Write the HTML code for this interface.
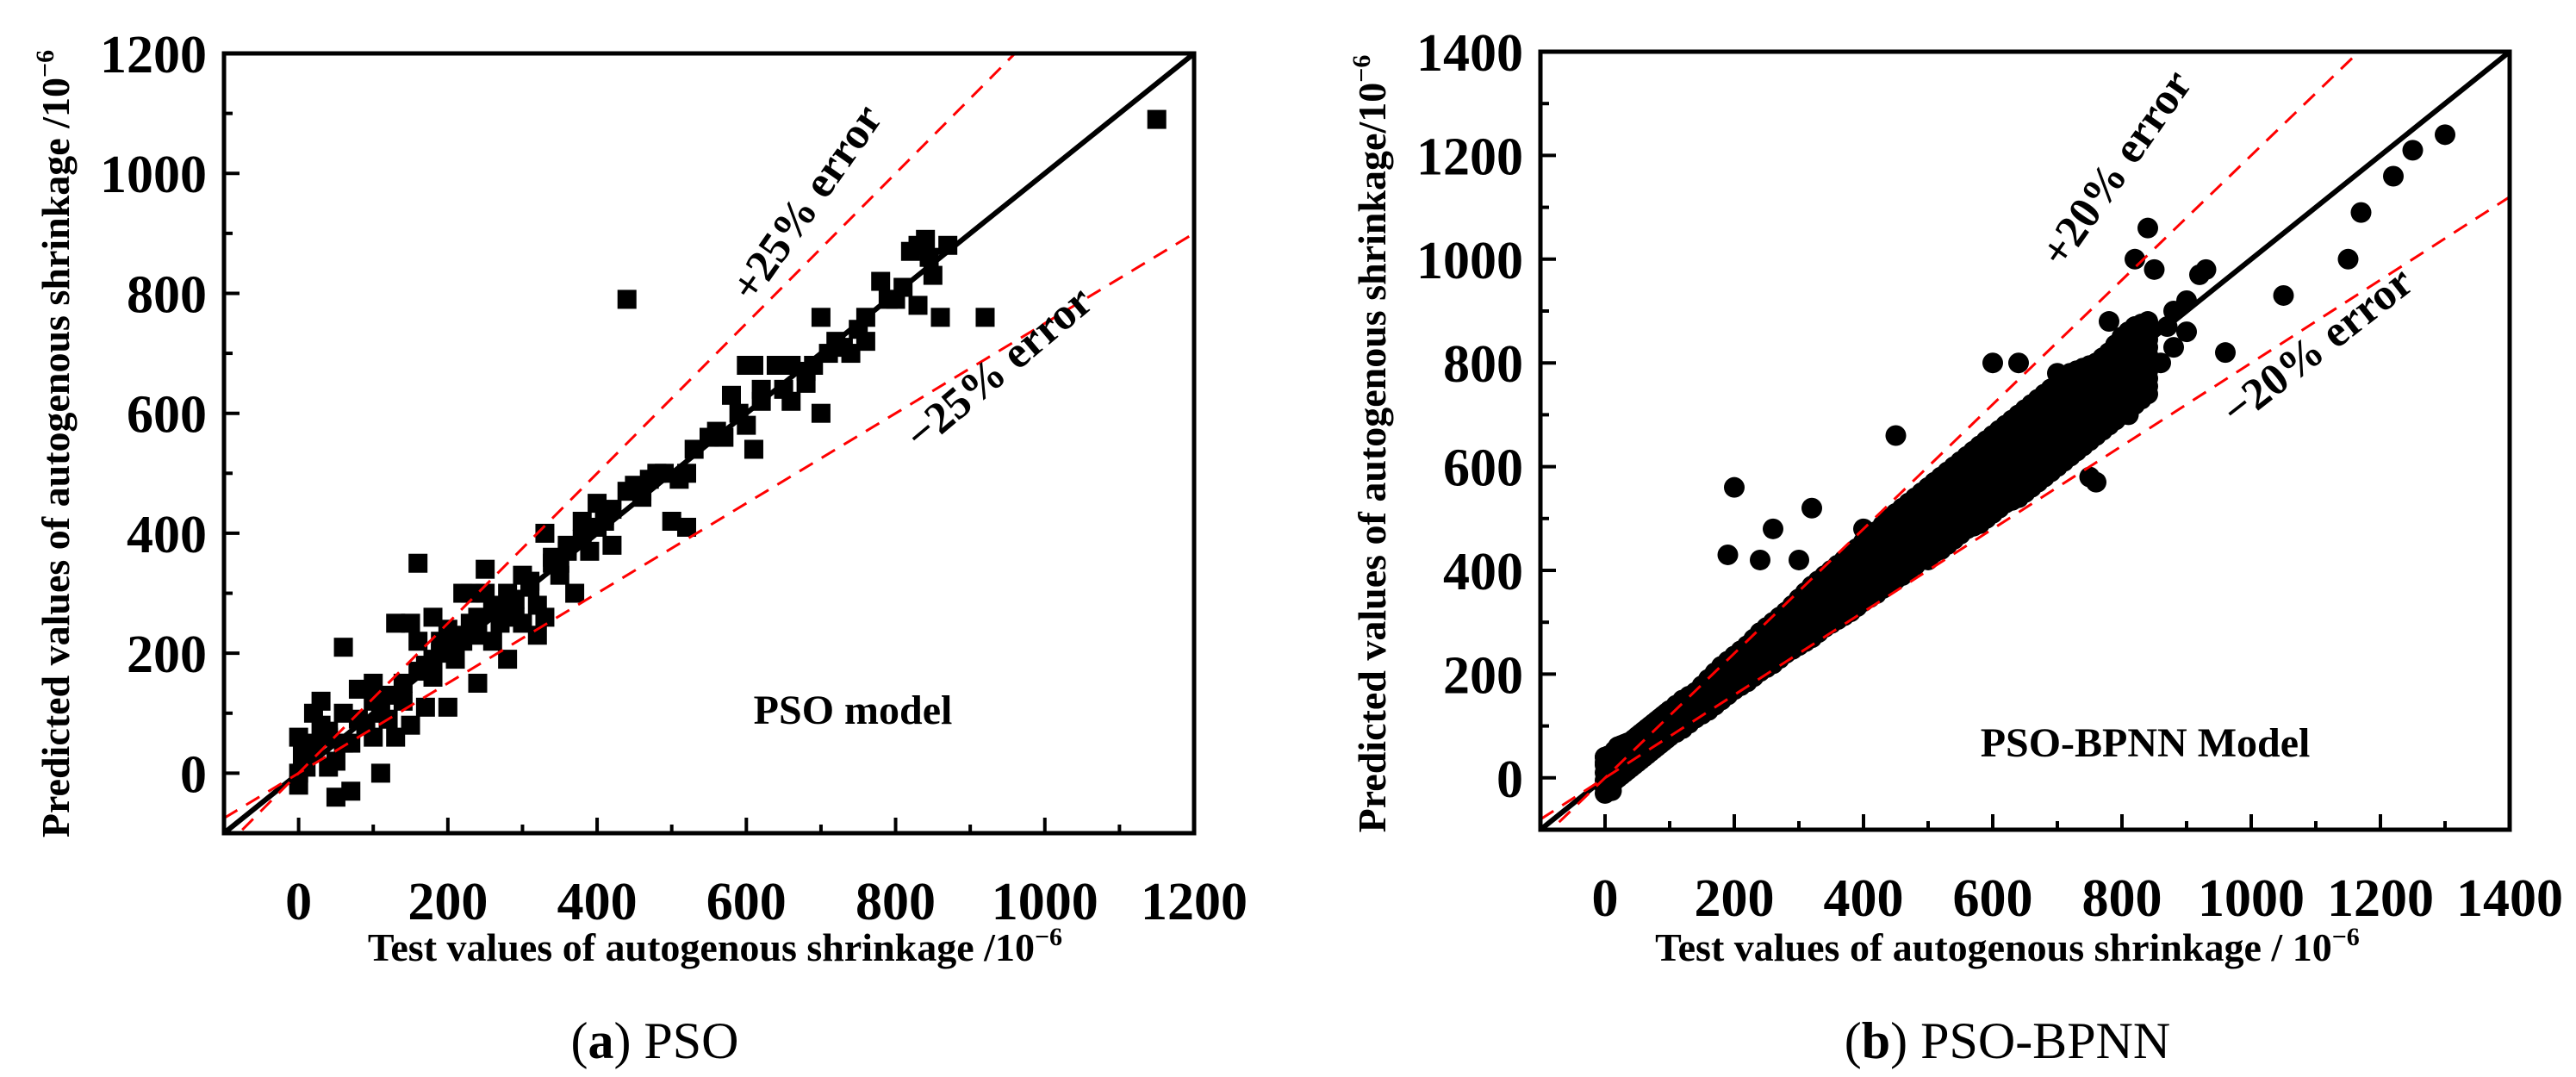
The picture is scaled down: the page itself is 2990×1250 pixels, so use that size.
<!DOCTYPE html>
<html><head><meta charset="utf-8">
<style>
html,body{margin:0;padding:0;background:#fff;}
svg{display:block;font-family:"Liberation Serif",serif;}
</style></head>
<body>
<svg id="fig" width="2990" height="1250" viewBox="0 0 2990 1250">
  <g id="pa"></g>
  <g id="pb"></g>
  <text x="760" y="1228" font-size="60" text-anchor="middle">(<tspan font-weight="bold">a</tspan>) PSO</text>
  <text x="2330" y="1228" font-size="60" text-anchor="middle">(<tspan font-weight="bold">b</tspan>) PSO-BPNN</text>
</svg>
<script>
// Panel A data (PSO)
const psoX = [0,0,0,5,10,20,20,30,40,50,50,60,70,60,80,90,100,100,110,120,130,140,150,160,160,170,180,190,200,210,220,230,240,240,250,260,270,280,290,300,300,310,320,330,340,350,360,370,380,390,400,410,420,440,450,460,480,500,510,520,550,560,580,600,610,620,640,660,680,700,700,720,740,760,780,800,820,830,840,850,860,870,920,1150,660,610,640,130,180,200,220,250,320,330,280,150,170,100,70,40,30,120,140,160,180,200,210,230,260,290,310,340,360,380,400,420,440,470,490,530,570,590,620,650,690,710,730,750,790,810,830,845,20,40,60,80,110,190,240,270,350,410,460,520,600,680,760];
const psoY = [0,-20,60,30,10,50,100,80,60,20,-40,100,-30,210,140,80,120,150,0,130,60,120,250,220,350,180,160,200,240,190,220,300,260,150,340,220,250,300,260,250,330,310,280,400,360,330,380,300,420,370,450,430,380,790,480,460,500,420,490,410,560,570,630,680,540,640,680,620,670,600,760,720,700,760,820,790,870,780,890,830,760,880,760,1090,680,680,680,250,260,110,300,300,230,260,190,80,110,60,50,10,120,90,150,170,190,210,230,250,270,290,320,350,370,390,410,440,470,490,500,540,560,600,620,640,680,700,710,740,790,810,880,860,40,70,50,90,100,220,230,280,350,420,470,500,580,650,720];
// Panel B data (PSO-BPNN): dense band + individual points
const bandX = [0,10,20,30,40,50,60,70,80,90,100,120,140,160,180,200,220,240,260,280,300,320,340,360,380,400,420,440,460,480,500,520,540,560,580,600,620,640,660,680,700,720,740,760,780,800,820,840];
const bandLow = [-20,-10,0,10,20,30,40,50,60,70,80,95,115,130,150,170,185,205,220,240,255,270,290,305,320,340,355,375,390,410,430,440,460,480,490,510,530,540,560,580,600,620,640,660,680,700,720,740];
const bandHigh = [40,45,60,65,70,80,90,100,110,120,130,150,165,190,215,235,255,280,300,320,345,370,390,410,430,455,475,500,520,540,560,580,600,620,640,660,680,700,720,740,760,780,790,800,820,850,870,880];
const bpX = [190,200,240,260,300,320,400,450,500,560,600,640,700,720,750,760,800,820,840,850,870,880,900,920,930,960,1050,1150,1170,1220,1250,1300,780,800,810,720,660,600,580,860,880,900,0,0,5,10];
const bpY = [430,560,420,480,420,520,480,660,420,600,800,800,780,700,580,570,840,1000,1060,980,870,900,920,970,980,820,930,1000,1090,1160,1210,1240,880,750,700,780,700,520,500,800,830,860,-30,30,0,-25];

const NS = "http://www.w3.org/2000/svg";
function mk(parent, tag, attrs){ const e=document.createElementNS(NS,tag); for(const k in attrs) e.setAttribute(k,attrs[k]); parent.appendChild(e); return e; }

function axes(g, cfg){
  const sx = v => cfg.x0 + (v - cfg.xmin) * (cfg.x1 - cfg.x0) / (cfg.xmax - cfg.xmin);
  const sy = v => cfg.y1 - (v - cfg.ymin) * (cfg.y1 - cfg.y0) / (cfg.ymax - cfg.ymin);
  const cid = cfg.id + "clip";
  const defs = mk(g,"defs",{});
  const cp = mk(defs,"clipPath",{id:cid});
  mk(cp,"rect",{x:cfg.x0,y:cfg.y0,width:cfg.x1-cfg.x0,height:cfg.y1-cfg.y0});
  const plot = mk(g,"g",{"clip-path":"url(#"+cid+")"});
  
  
  return {sx, sy, plot};
}

function drawPanel(g, cfg){
  const {sx, sy, plot} = axes(g, cfg);
  cfg.points(plot, sx, sy);
  const lo = cfg.xmin, hi = cfg.xmax;
  const l1 = mk(plot,"line",{x1:sx(lo),y1:sy(lo),x2:sx(hi),y2:sy(hi),stroke:"#000","stroke-width":6});
  
  
  const lu = mk(plot,"line",{x1:sx(lo),y1:sy(lo*(1+cfg.err)),x2:sx(hi),y2:sy(hi*(1+cfg.err)),stroke:"#f00","stroke-width":3,"stroke-dasharray":"18 12"});
  
  
  const ld = mk(plot,"line",{x1:sx(lo),y1:sy(lo*(1-cfg.err)),x2:sx(hi),y2:sy(hi*(1-cfg.err)),stroke:"#f00","stroke-width":3,"stroke-dasharray":"18 12"});
  
  
  const fr = mk(g,"rect",{x:cfg.x0,y:cfg.y0,width:cfg.x1-cfg.x0,height:cfg.y1-cfg.y0,fill:"none",stroke:"#000","stroke-width":5});
  
  
  for(let v=0; v<=cfg.xmax; v+=100){
    const major = v%200===0; const x=sx(v);
    const t = mk(g,"line",{x1:x,y1:cfg.y1,x2:x,y2:cfg.y1-(major?18:10),stroke:"#000","stroke-width":4});
    
    
    if(major){
      const tl = mk(g,"text",{x:x,y:cfg.y1+100,"font-size":62,"font-weight":"bold","text-anchor":"middle"});
      tl.textContent = v;
      
      
    }
  }
  for(let v=0; v<=cfg.ymax; v+=100){
    const major = v%200===0; const y=sy(v);
    const t = mk(g,"line",{x1:cfg.x0,y1:y,x2:cfg.x0+(major?18:10),y2:y,stroke:"#000","stroke-width":4});
    
    
    if(major){
      const tl = mk(g,"text",{x:cfg.x0-20,y:y+22,"font-size":62,"font-weight":"bold","text-anchor":"end"});
      tl.textContent = v;
      
      
    }
  }
  const xt = mk(g,"text",{x:cfg.xtX,y:1115,"font-size":46,"font-weight":"bold","text-anchor":"middle"});
  xt.innerHTML = cfg.xtitle + '<tspan dy="-18" font-size="30">−6</tspan>';
  
  
  const yt = mk(g,"text",{x:0,y:0,"font-size":46,"font-weight":"bold","text-anchor":"middle",transform:"translate("+cfg.ytX+",515) rotate(-90)"});
  yt.innerHTML = cfg.ytitle + '<tspan dy="-18" font-size="30">−6</tspan>';
  
  
  cfg.notes.forEach(n=>{
    const t = mk(g,"text",{x:0,y:0,"font-size":n.fs,"font-weight":"bold","text-anchor":"middle",transform:"translate("+n.x+","+n.y+") rotate("+n.r+")"});
    t.textContent = n.t;
    
    
  });
}

drawPanel(document.getElementById('pa'), {
  id:"a", x0:260, x1:1386, y0:62, y1:967, xmin:-100, xmax:1200, ymin:-100, ymax:1200, err:0.25,
  xtX:830, ytX:80,
  xtitle:"Test values of autogenous shrinkage /10",
  ytitle:"Predicted  values of autogenous shrinkage /10",
  notes:[
    {t:"+25% error", x:950, y:245, r:-55, fs:52, name:"plus-25-error-label"},
    {t:"−25% error", x:1170, y:440, r:-40, fs:52, name:"minus-25-error-label"},
    {t:"PSO model", x:990, y:840, r:0, fs:48, name:"pso-model-label"}
  ],
  points:(p,sx,sy)=>{
    for(let i=0;i<psoX.length;i++){
      const r = mk(p,"rect",{x:sx(psoX[i])-11,y:sy(psoY[i])-11,width:22,height:22,fill:"#000"});
      
      
    }
  }
});

drawPanel(document.getElementById('pb'), {
  id:"b", x0:1788, x1:2913, y0:60, y1:963, xmin:-100, xmax:1400, ymin:-100, ymax:1400, err:0.20,
  xtX:2330, ytX:1608,
  xtitle:"Test values of autogenous shrinkage / 10",
  ytitle:"Predicted values of autogenous shrinkage/10",
  notes:[
    {t:"+20% error", x:2470, y:205, r:-55, fs:52, name:"plus-20-error-label"},
    {t:"−20% error", x:2700, y:415, r:-38, fs:52, name:"minus-20-error-label"},
    {t:"PSO-BPNN Model", x:2490, y:878, r:0, fs:48, name:"pso-bpnn-model-label"}
  ],
  points:(p,sx,sy)=>{
    for(let i=0;i<bandX.length;i++){
      const steps = [[bandX[i],bandLow[i],bandHigh[i]]];
      if(i>0) steps.push([(bandX[i]+bandX[i-1])/2,(bandLow[i]+bandLow[i-1])/2,(bandHigh[i]+bandHigh[i-1])/2]);
      steps.forEach(s=>{
        for(let v=s[1]; v<=s[2]; v+=15){
          const c = mk(p,"circle",{cx:sx(s[0]),cy:sy(v),r:12,fill:"#000"});
          
          
        }
        const c2 = mk(p,"circle",{cx:sx(s[0]),cy:sy(s[2]),r:12,fill:"#000"});
        
        
      });
    }
    for(let i=0;i<bpX.length;i++){
      const c = mk(p,"circle",{cx:sx(bpX[i]),cy:sy(bpY[i]),r:12,fill:"#000"});
      
      
    }
  }
});
</script>
</body></html>
